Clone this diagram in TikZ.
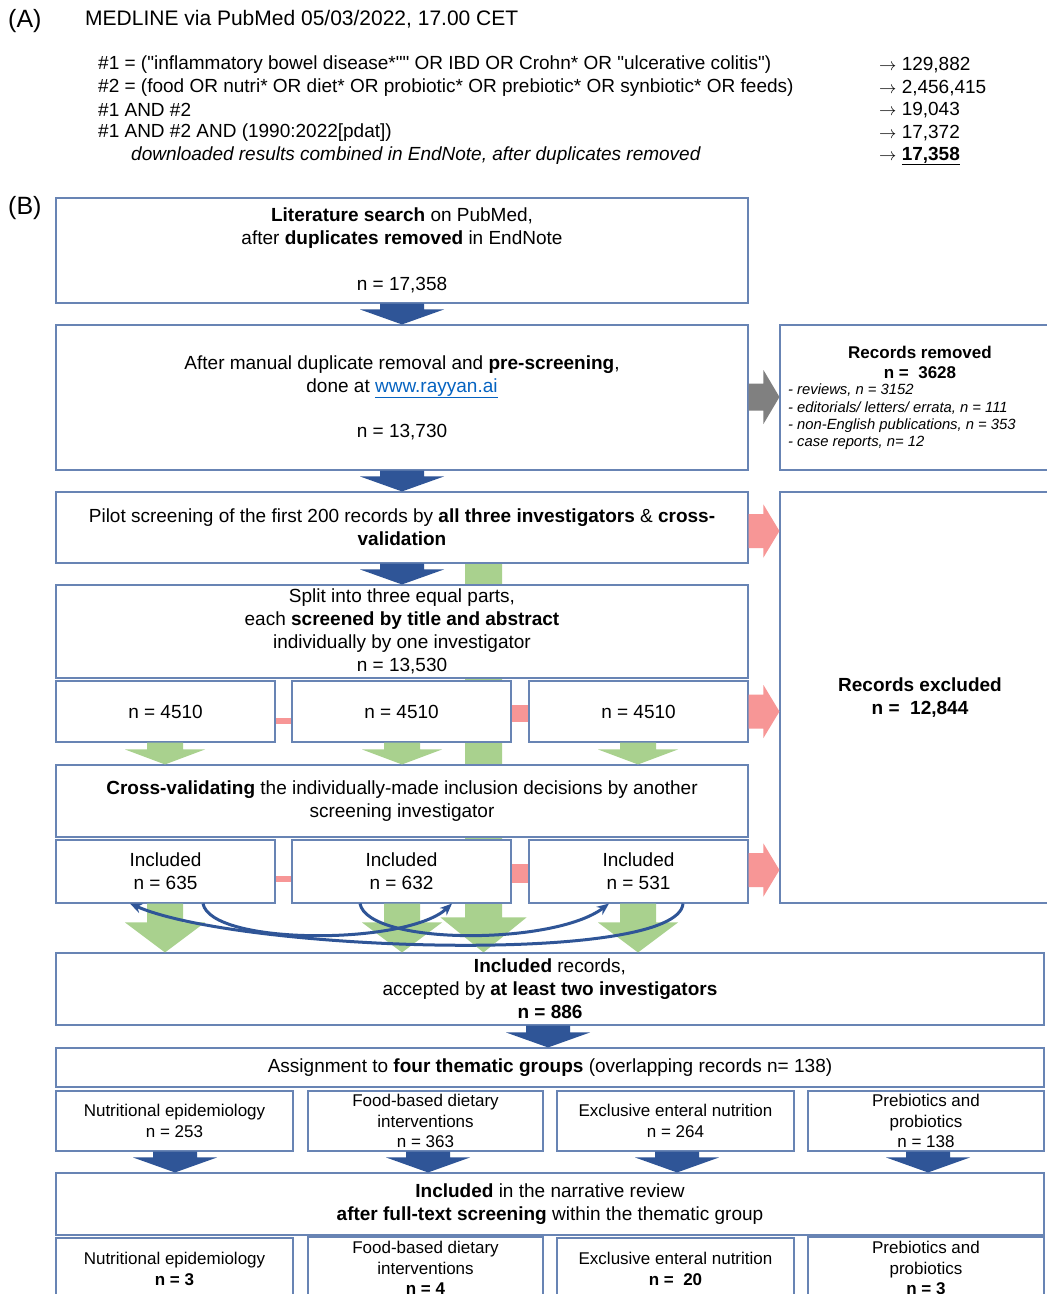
\documentclass[tikz,border=0pt]{standalone}
\usepackage{fontspec}
\setmainfont{Liberation Sans}
\usetikzlibrary{calc,backgrounds,arrows.meta}
\definecolor{boxc}{RGB}{104,132,180}
\definecolor{arrowblue}{RGB}{47,85,151}
\definecolor{greenc}{RGB}{169,209,142}
\definecolor{pinkc}{RGB}{247,150,150}
\definecolor{grayc}{RGB}{128,128,128}
\definecolor{linkc}{RGB}{5,99,193}
\newcommand\fmain{\fontsize{19}{23}\selectfont}
\newcommand\fgrp{\fontsize{17}{20.5}\selectfont}
\newcommand\fsmall{\fontsize{14.8}{17.3}\selectfont}
\newcommand\fA{\fontsize{19}{22.5}\selectfont}
\newcommand\qq{\textquotedbl}
\newcommand\rarr{$\rightarrow$}
% vertical block arrow: style, from node, to node, x, shaft half, head half, head length
\newcommand\vblock[7]{%
  \fill[#1] let \p1=(#2.south), \p2=(#3.north) in
  ({#4pt-#5pt},\y1) -- ({#4pt+#5pt},\y1) -- ({#4pt+#5pt},{\y2+#7pt}) --
  ({#4pt+#6pt},{\y2+#7pt}) -- (#4pt,\y2) -- ({#4pt-#6pt},{\y2+#7pt}) --
  ({#4pt-#5pt},{\y2+#7pt}) -- cycle;}
% horizontal block arrow: style, from node, to node, y (down), shaft half, head half, head length
\newcommand\hblock[7]{%
  \fill[#1] let \p1=(#2.east), \p2=(#3.west) in
  (\x1,{-#4pt+#5pt}) -- ({\x2-#7pt},{-#4pt+#5pt}) -- ({\x2-#7pt},{-#4pt+#6pt}) --
  (\x2,{-#4pt}) -- ({\x2-#7pt},{-#4pt-#6pt}) -- ({\x2-#7pt},{-#4pt-#5pt}) --
  (\x1,{-#4pt-#5pt}) -- cycle;}
\begin{document}
\begin{tikzpicture}[x=1pt,y=-1pt,
  box/.style={draw=boxc, fill=white, line width=1.1pt, align=center, inner sep=0pt, font=\fmain},
  gbox/.style={box, font=\fgrp},
  qline/.style={anchor=west, inner sep=0pt, font=\fA},
  curvearrow/.style={draw=arrowblue, line width=3pt, -{Stealth[length=12pt,width=10pt]}}]
\useasboundingbox (0,0) rectangle (1047,1294);

% ---------- (A) ----------
\node[anchor=west, inner sep=0pt, font=\fontsize{25}{28}\selectfont] (labA) at (8,21) {(A)};
\node[anchor=west, inner sep=0pt, font=\fontsize{21}{25}\selectfont] (titA) at (85,19) {MEDLINE via PubMed 05/03/2022, 17.00 CET};
\node[qline] (q1) at (98,65) {\#1 = (\qq inflammatory bowel disease*\qq\qq{} OR IBD OR Crohn* OR \qq ulcerative colitis\qq)};
\node[qline] (q2) at (98,88) {\#2 = (food OR nutri* OR diet* OR probiotic* OR prebiotic* OR synbiotic* OR feeds)};
\node[qline] (q3) at (98,110) {\#1 AND \#2};
\node[qline] (q4) at (98,133) {\#1 AND \#2 AND (1990:2022[pdat])};
\node[qline] (q5) at (131,156) {\itshape downloaded results combined in EndNote, after duplicates removed};
\node[qline] (r1) at (879,65) {\rarr\ 129,882};
\node[qline] (r2) at (879,88) {\rarr\ 2,456,415};
\node[qline] (r3) at (879,110) {\rarr\ 19,043};
\node[qline] (r4) at (879,133) {\rarr\ 17,372};
\node[qline] (r5) at (879,156) {\rarr\ \underline{\textbf{17,358}}};

% ---------- (B) ----------
\node[anchor=west, inner sep=0pt, font=\fontsize{25}{28}\selectfont] (labB) at (8,208) {(B)};

\node[box, minimum width=692, minimum height=105] (b1) at (402,250.5)
  {\textbf{Literature search} on PubMed,\\after \textbf{duplicates removed} in EndNote\\[23pt]n = 17,358};
\node[box, minimum width=692, minimum height=145] (b2) at (402,397.5)
  {After manual duplicate removal and \textbf{pre-screening},\\done at \textcolor{linkc}{\underline{www.rayyan.ai}}\\[22pt]n = 13,730};
\node[box, minimum width=280, minimum height=145] (rem) at (920,397.5) {};
\node[inner sep=0pt, align=center, font=\fontsize{17}{20}\selectfont\bfseries] (remT) at (920,362) {Records removed\\n =\ \ 3628};
\node[anchor=north west, inner sep=0pt, align=left, font=\fsmall\itshape] (remL) at (788,384)
  {- reviews, n = 3152\\- editorials/ letters/ errata, n = 111\\- non-English publications, n = 353\\- case reports, n= 12};

\node[box, minimum width=692, minimum height=71] (b3) at (402,527.5)
  {Pilot screening of the first 200 records by \textbf{all three investigators} \& \textbf{cross-}\\\textbf{validation}};
\node[box, minimum width=280, minimum height=411] (exc) at (920,697.5)
  {\textbf{Records excluded}\\\textbf{n =\ \ 12,844}};
\node[box, minimum width=692, minimum height=93] (b4) at (402,631.5)
  {Split into three equal parts,\\each \textbf{screened by title and abstract}\\individually by one investigator\\n = 13,530};
\node[box, minimum width=219, minimum height=61] (s1a) at (165.5,711.5) {n = 4510};
\node[box, minimum width=219, minimum height=61] (s1b) at (401.5,711.5) {n = 4510};
\node[box, minimum width=219, minimum height=61] (s1c) at (638.5,711.5) {n = 4510};
\node[box, minimum width=692, minimum height=72] (cv) at (402,801)
  {\textbf{Cross-validating} the individually-made inclusion decisions by another\\screening investigator};
\node[box, minimum width=219, minimum height=63] (ia) at (165.5,871.5) {Included\\n = 635};
\node[box, minimum width=219, minimum height=63] (ib) at (401.5,871.5) {Included\\n = 632};
\node[box, minimum width=219, minimum height=63] (ic) at (638.5,871.5) {Included\\n = 531};

\node[box, minimum width=988, minimum height=72] (inc) at (550,989)
  {\textbf{Included} records,\\accepted by \textbf{at least two investigators}\\\textbf{n = 886}};
\node[box, minimum width=988, minimum height=39] (asg) at (550,1067.5)
  {Assignment to \textbf{four thematic groups} (overlapping records n= 138)};
\node[gbox, minimum width=237, minimum height=60] (g1) at (174.5,1121) {Nutritional epidemiology\\n = 253};
\node[gbox, minimum width=235, minimum height=60] (g2) at (425.5,1121) {Food-based dietary\\interventions\\n = 363};
\node[gbox, minimum width=237, minimum height=60] (g3) at (675.5,1121) {Exclusive enteral nutrition\\n = 264};
\node[gbox, minimum width=236, minimum height=60] (g4) at (926,1121) {Prebiotics and\\probiotics\\n = 138};
\node[box, minimum width=988, minimum height=62] (nar) at (550,1204)
  {\textbf{Included} in the narrative review\\\textbf{after full-text screening} within the thematic group};
\node[gbox, minimum width=237, minimum height=62] (f1) at (174.5,1269) {Nutritional epidemiology\\\textbf{n = 3}};
\node[gbox, minimum width=235, minimum height=62] (f2) at (425.5,1268) {Food-based dietary\\interventions\\\textbf{n = 4}};
\node[gbox, minimum width=237, minimum height=62] (f3) at (675.5,1269) {Exclusive enteral nutrition\\\textbf{n =\ \ 20}};
\node[gbox, minimum width=236, minimum height=62] (f4) at (926,1268) {Prebiotics and\\probiotics\\\textbf{n = 3}};

% ---------- background: white page, long green arrow and pink bars ----------
\begin{scope}[on background layer]
  \fill[white] (0,0) rectangle (1047,1294);
  \vblock{greenc}{b3}{inc}{483.5}{18.5}{43}{35}
  \fill[pinkc] ([yshift=-6.5pt]s1a.east) rectangle ([yshift=-12.5pt]s1b.west);
  \fill[pinkc] ([yshift=6.5pt]s1b.east) rectangle ([yshift=-10.5pt]s1c.west);
  \fill[pinkc] ([yshift=-4.5pt]ia.east) rectangle ([yshift=-10.5pt]ib.west);
  \fill[pinkc] ([yshift=7.5pt]ib.east) rectangle ([yshift=-11.5pt]ic.west);
\end{scope}

% ---------- blue block arrows ----------
\vblock{arrowblue}{b1}{b2}{402}{22}{42}{15}
\vblock{arrowblue}{b2}{b3}{402}{22}{42}{15}
\vblock{arrowblue}{b3}{b4}{402}{22}{42}{15}
\vblock{arrowblue}{inc}{asg}{548}{22}{42}{15}
\vblock{arrowblue}{g1}{nar}{175}{22}{42}{15}
\vblock{arrowblue}{g2}{nar}{428}{22}{42}{15}
\vblock{arrowblue}{g3}{nar}{677}{22}{42}{15}
\vblock{arrowblue}{g4}{nar}{928}{22}{42}{15}

% ---------- green block arrows ----------
\vblock{greenc}{s1a}{cv}{165}{18}{40}{15}
\vblock{greenc}{s1b}{cv}{402}{18}{40}{15}
\vblock{greenc}{s1c}{cv}{638}{18}{40}{15}
\vblock{greenc}{ia}{inc}{165}{18}{40}{30}
\vblock{greenc}{ib}{inc}{402}{18}{40}{30}
\vblock{greenc}{ic}{inc}{638}{18}{40}{30}

% ---------- sideways arrows ----------
\hblock{grayc}{b2}{rem}{397}{13.5}{27}{16}
\hblock{pinkc}{b3}{exc}{531}{17}{26.5}{16}
\hblock{pinkc}{s1c}{exc}{711.5}{17}{26.5}{16}
\hblock{pinkc}{ic}{exc}{870}{17}{26.5}{16}

% ---------- curved cross-validation arrows ----------
\draw[curvearrow] ([xshift=37.5pt]ia.south) .. controls +(8,42) and +(-45,42) .. ([xshift=50.5pt]ib.south);
\draw[curvearrow] ([xshift=-41.5pt]ib.south) .. controls +(8,42) and +(-55,42) .. ([xshift=-29.5pt]ic.south);
\draw[curvearrow] ([xshift=44.5pt]ic.south) .. controls +(-5,62) and +(110,48) .. ([xshift=-35.5pt]ia.south);
\end{tikzpicture}
\end{document}
